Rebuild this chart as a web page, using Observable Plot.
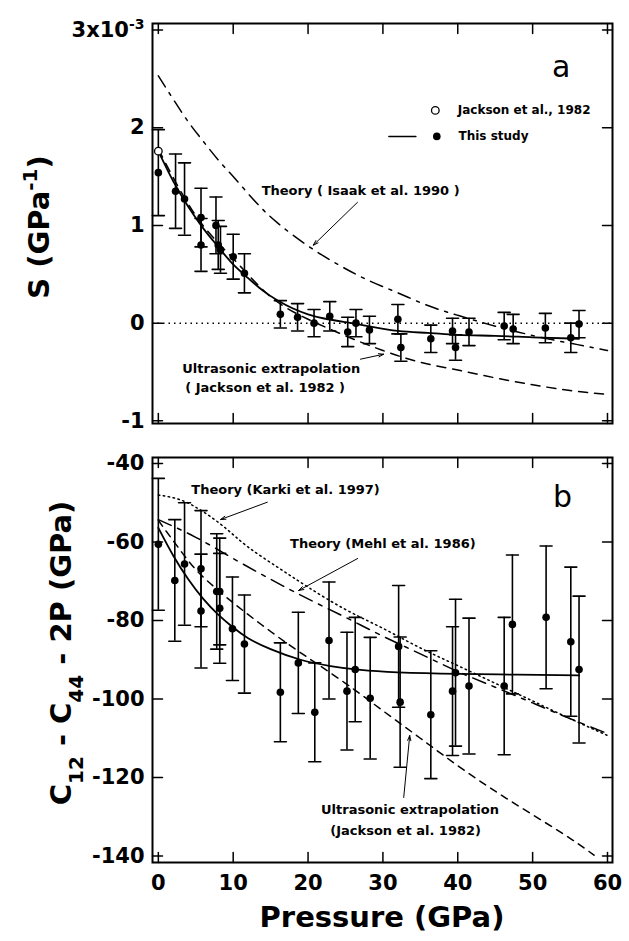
<!DOCTYPE html>
<html><head><meta charset="utf-8">
<script src="https://cdn.jsdelivr.net/npm/d3@7"></script>
<script src="https://cdn.jsdelivr.net/npm/@observablehq/plot@0.6"></script>
<style>
body{margin:0;background:#fff;}
#chart{width:629px;}
#chart svg{display:block;}
</style>
</head><body><div id="chart"></div>
<script>
// ---------- shared ----------
const xTicks = [0, 10, 20, 30, 40, 50, 60];

// ---------- panel a : S (x10^-3 GPa^-1) ----------
const aPressure = [0, 2.3, 3.5, 5.7, 5.7, 7.7, 8.0, 8.3, 10.0, 11.5, 16.3, 18.6, 20.8, 22.9, 25.3, 26.4, 28.2, 32.0, 32.4, 36.4, 39.3, 39.7, 41.5, 46.2, 47.4, 51.7, 55.1, 56.2];
const aS        = [1.54, 1.35, 1.27, 1.08, 0.80, 1.00, 0.80, 0.75, 0.68, 0.51, 0.09, 0.06, 0.00, 0.07, -0.09, 0.00, -0.07, 0.04, -0.25, -0.16, -0.08, -0.25, -0.09, -0.03, -0.06, -0.05, -0.15, -0.01];
const aErr      = [0.44, 0.38, 0.37, 0.30, 0.27, 0.29, 0.25, 0.24, 0.23, 0.20, 0.14, 0.14, 0.14, 0.15, 0.15, 0.14, 0.14, 0.15, 0.14, 0.14, 0.13, 0.13, 0.14, 0.14, 0.15, 0.15, 0.15, 0.14];
const jacksonPressure = [0];
const jacksonS = [1.76];
const aFitP = [0, 2, 4, 6, 8, 10, 12, 14, 16, 18, 20, 22, 25, 28, 32, 36, 40, 45, 50, 56.2];
const aFitS = [1.76, 1.45, 1.19, 0.97, 0.78, 0.60, 0.46, 0.33, 0.23, 0.15, 0.09, 0.05, 0.01, -0.03, -0.08, -0.10, -0.12, -0.13, -0.145, -0.16];
const aUltraP = [0, 5, 10, 15, 20, 25, 30, 35, 40, 45, 50, 55, 60];
const aUltraS = [1.78, 1.10, 0.66, 0.27, 0.04, -0.13, -0.28, -0.40, -0.48, -0.56, -0.63, -0.69, -0.73];
const aIsaakP = [0, 2, 4, 6, 8, 10, 13, 16, 20, 24, 28, 32, 36, 40, 44, 48, 52, 56, 60];
const aIsaakS = [2.53, 2.29, 2.06, 1.86, 1.67, 1.50, 1.24, 1.02, 0.79, 0.60, 0.44, 0.31, 0.18, 0.08, -0.01, -0.09, -0.16, -0.22, -0.28];
const aZero = [0];
const aYTicks = [-1, 0, 1, 2, 3];
const aNoteText = ["Theory ( Isaak et al. 1990 )", "Ultrasonic extrapolation", "( Jackson et al. 1982 )"];
const aNoteP = [13.8, 3.2, 3.6];
const aNoteS = [1.349, -0.471, -0.666];
const aArrowP1 = [26.6, 27.0], aArrowS1 = [1.236, -0.369];
const aArrowP2 = [20.7, 30.1], aArrowS2 = [0.797, -0.318];
const aLegendText = ["Jackson et al., 1982", "This study"];
const aLegendTextP = [40.0, 40.1];
const aLegendS = [2.177, 1.911];
const aLegendLineP = [30.8, 34.4];
const aPanelLabel = ["a"], aPanelP = [53.8], aPanelS = [2.617];

// ---------- panel b : C12 - C44 - 2P (GPa) ----------
const bPressure = [0, 2.2, 3.5, 5.7, 5.7, 7.8, 8.2, 8.2, 9.9, 11.5, 16.3, 18.7, 20.9, 22.8, 25.2, 26.3, 28.3, 32.1, 32.3, 36.4, 39.3, 39.7, 41.5, 46.2, 47.3, 51.8, 55.1, 56.2];
const bC        = [-60.6, -69.8, -65.6, -66.8, -77.6, -72.6, -72.6, -76.9, -82.1, -86.0, -98.3, -90.8, -103.4, -85.1, -98.0, -92.5, -99.8, -86.6, -100.8, -104.0, -98.0, -93.3, -96.7, -96.7, -81.0, -79.2, -85.4, -92.5];
const bErr      = [16.8, 15.5, 15.6, 14.8, 14.5, 14.7, 13.6, 14.0, 13.2, 12.5, 12.6, 12.9, 12.6, 14.9, 15.0, 13.3, 15.5, 15.5, 16.6, 16.3, 16.4, 18.7, 17.3, 17.5, 17.7, 18.2, 19.0, 18.7];
const bFitP = [0, 2, 4, 6, 8, 10, 12, 15, 19, 23, 27, 32, 40, 48, 56.2];
const bFitC = [-56.4, -63.5, -69.5, -74.5, -78.5, -81.8, -84.5, -87.3, -90.0, -91.6, -92.6, -93.2, -93.6, -93.8, -94.0];
const bKarkiP = [0, 3, 6, 9, 12, 16, 20, 25, 30, 35, 40, 45, 50, 55, 60];
const bKarkiC = [-48.0, -49.3, -52.3, -56.5, -61.3, -66.5, -71.5, -77.2, -82.0, -87.0, -91.5, -96.0, -100.5, -105.0, -109.3];
const bMehlP = [0, 5, 10, 15, 20, 25, 30, 35, 40, 45, 50, 55, 60];
const bMehlC = [-54.3, -58.8, -64.2, -69.5, -74.5, -79.2, -84.0, -88.5, -93.0, -97.0, -101.0, -105.0, -108.8];
const bUltraP = [0, 2.5, 5, 7.5, 10, 15, 20, 25, 30, 35, 40, 45, 50, 55, 58.2];
const bUltraC = [-54.5, -61.0, -67.0, -71.5, -75.5, -82.8, -89.5, -96.0, -103.0, -110.0, -117.0, -123.5, -129.5, -135.5, -139.8];
const bYTicks = [-140, -120, -100, -80, -60, -40];
const bNoteStartText = ["Theory (Karki et al. 1997)", "Theory (Mehl et al. 1986)"];
const bNoteStartP = [4.4, 17.6];
const bNoteStartC = [-46.6, -60.46];
const bNoteEndText = ["Ultrasonic extrapolation", "(Jackson et al. 1982)"];
const bNoteEndP = [45.5, 43.1];
const bNoteEndC = [-128.15, -133.5];
const bArrowP1 = [14.56, 26.63, 32.78], bArrowC1 = [-49.86, -64.2, -125.1];
const bArrowP2 = [8.32, 18.74, 33.58], bArrowC2 = [-54.27, -72.36, -109.3];
const bPanelLabel = ["b"], bPanelP = [54.0], bPanelC = [-48.7];

// ---------- helpers ----------
const xDomain = [-0.78, 60.67];
const tickShape = {draw(ctx, l) { ctx.moveTo(0, 0); ctx.lineTo(0, -l); }};
function frameTicks(xt, yt) {
  const o = {length: 10, anchor: "start", shape: tickShape, strokeWidth: 1.5, stroke: "black"};
  return [
    Plot.vector(xt, {x: d => d, frameAnchor: "bottom", rotate: 0, ...o}),
    Plot.vector(xt, {x: d => d, frameAnchor: "top", rotate: 180, ...o}),
    Plot.vector(yt, {y: d => d, frameAnchor: "left", rotate: 90, ...o}),
    Plot.vector(yt, {y: d => d, frameAnchor: "right", rotate: -90, ...o})
  ];
}
function errorBars(xs, ys, es) {
  const rows = xs.map((x, i) => ({x, y: ys[i], lo: ys[i] - es[i], hi: ys[i] + es[i]}));
  return [
    Plot.ruleX(rows, {x: "x", y1: "lo", y2: "hi", stroke: "black", strokeWidth: 1.6}),
    Plot.vector(rows, {x: "x", y: "hi", length: 12, rotate: 90, anchor: "middle", shape: tickShape, strokeWidth: 1.6, stroke: "black"}),
    Plot.vector(rows, {x: "x", y: "lo", length: 12, rotate: 90, anchor: "middle", shape: tickShape, strokeWidth: 1.6, stroke: "black"}),
    Plot.dot(rows, {x: "x", y: "y", r: 3.8, fill: "black", stroke: "none"})
  ];
}
const zip = (xs, ys) => xs.map((x, i) => ({x, y: ys[i]}));
const baseStyle = "font-family:'DejaVu Sans';font-weight:bold;font-size:21px;color:black;background:white;overflow:visible;";

// ---------- panel a ----------
const svgA = Plot.plot({
  width: 629, height: 440,
  marginLeft: 152, marginRight: 17, marginTop: 23, marginBottom: 17,
  style: baseStyle,
  x: {domain: xDomain},
  y: {domain: [-1.027, 3.066]},
  marks: [
    Plot.axisY(aYTicks, {tickSize: 0, tickPadding: 8, fontSize: 21, fontWeight: "bold", label: null,
      tickFormat: d => d === 3 ? "3x10" : String(d)}),
    Plot.axisX({ticks: [], label: null}),
    Plot.ruleY(aZero, {stroke: "black", strokeWidth: 1.5, strokeDasharray: "1.5,4"}),
    Plot.line(zip(aIsaakP, aIsaakS), {x: "x", y: "y", curve: "natural", stroke: "black", strokeWidth: 1.5, strokeDasharray: "13,7,3,7"}),
    Plot.line(zip(aUltraP, aUltraS), {x: "x", y: "y", curve: "natural", stroke: "black", strokeWidth: 1.5, strokeDasharray: "9,7"}),
    Plot.line(zip(aFitP, aFitS), {x: "x", y: "y", curve: "natural", stroke: "black", strokeWidth: 1.8}),
    ...errorBars(aPressure, aS, aErr),
    Plot.dot(zip(jacksonPressure, jacksonS), {x: "x", y: "y", r: 3.8, fill: "white", stroke: "black", strokeWidth: 1.3}),
    Plot.text(aNoteText, {x: (d, i) => aNoteP[i], y: (d, i) => aNoteS[i], text: d => d, textAnchor: "start", fontSize: 13, fontWeight: "bold"}),
    Plot.arrow(aArrowP1, {x1: d => d, y1: (d, i) => aArrowS1[i], x2: (d, i) => aArrowP2[i], y2: (d, i) => aArrowS2[i], stroke: "black", strokeWidth: 1, headLength: 8, headAngle: 35}),
    // legend
    Plot.dot([0], {x: () => 37.0, y: () => aLegendS[0], r: 3.8, fill: "white", stroke: "black", strokeWidth: 1.3}),
    Plot.line(aLegendLineP, {x: d => d, y: () => aLegendS[1], stroke: "black", strokeWidth: 1.5}),
    Plot.dot([0], {x: () => 37.2, y: () => aLegendS[1], r: 3.8, fill: "black"}),
    Plot.text(aLegendText, {x: (d, i) => aLegendTextP[i], y: (d, i) => aLegendS[i], text: d => d, textAnchor: "start", fontSize: 12, fontWeight: "bold"}),
    Plot.text(aPanelLabel, {x: (d, i) => aPanelP[i], y: (d, i) => aPanelS[i], text: d => d, fontSize: 30, fontWeight: "normal"}),
    ...frameTicks(xTicks, aYTicks),
    Plot.frame({stroke: "black", strokeWidth: 2})
  ]
});

// ---------- panel b ----------
const svgB = Plot.plot({
  width: 629, height: 501,
  marginLeft: 152, marginRight: 17, marginTop: 17, marginBottom: 79,
  style: baseStyle,
  x: {domain: xDomain},
  y: {domain: [-141.66, -38.47]},
  marks: [
    Plot.axisY(bYTicks, {tickSize: 0, tickPadding: 8, fontSize: 21, fontWeight: "bold", label: null, tickFormat: d => String(d)}),
    Plot.axisX(xTicks, {tickSize: 0, tickPadding: 13, fontSize: 21, fontWeight: "bold", label: null, tickFormat: d => String(d)}),
    Plot.line(zip(bKarkiP, bKarkiC), {x: "x", y: "y", curve: "natural", stroke: "black", strokeWidth: 1.5, strokeDasharray: "1.5,3.5"}),
    Plot.line(zip(bMehlP, bMehlC), {x: "x", y: "y", curve: "natural", stroke: "black", strokeWidth: 1.5, strokeDasharray: "14,7,4,7"}),
    Plot.line(zip(bUltraP, bUltraC), {x: "x", y: "y", curve: "natural", stroke: "black", strokeWidth: 1.5, strokeDasharray: "7,6"}),
    Plot.line(zip(bFitP, bFitC), {x: "x", y: "y", curve: "natural", stroke: "black", strokeWidth: 1.8}),
    ...errorBars(bPressure, bC, bErr),
    Plot.text(bNoteStartText, {x: (d, i) => bNoteStartP[i], y: (d, i) => bNoteStartC[i], text: d => d, textAnchor: "start", fontSize: 13, fontWeight: "bold"}),
    Plot.text(bNoteEndText, {x: (d, i) => bNoteEndP[i], y: (d, i) => bNoteEndC[i], text: d => d, textAnchor: "end", fontSize: 13, fontWeight: "bold"}),
    Plot.arrow(bArrowP1, {x1: d => d, y1: (d, i) => bArrowC1[i], x2: (d, i) => bArrowP2[i], y2: (d, i) => bArrowC2[i], stroke: "black", strokeWidth: 1, headLength: 8, headAngle: 35}),
    Plot.text(bPanelLabel, {x: (d, i) => bPanelP[i], y: (d, i) => bPanelC[i], text: d => d, fontSize: 30, fontWeight: "normal"}),
    ...frameTicks(xTicks, bYTicks),
    Plot.frame({stroke: "black", strokeWidth: 2})
  ]
});

// superscript on the 3x10^-3 tick label
d3.select(svgA).selectAll("text").each(function() {
  if (this.textContent === "3x10") {
    d3.select(this).append("tspan").attr("baseline-shift", "super").attr("font-size", 14).text("-3");
  }
});

// axis titles with super/subscripts
function addYTitle(svg, x, y, parts) {
  const t = d3.select(svg).append("text")
    .attr("transform", `translate(${x},${y}) rotate(-90)`)
    .attr("text-anchor", "middle")
    .attr("font-family", "DejaVu Sans").attr("font-weight", "bold").attr("font-size", 29).attr("fill", "black");
  for (const [s, shift] of parts) {
    const ts = t.append("tspan").text(s);
    if (shift) ts.attr("baseline-shift", shift).attr("font-size", 20);
  }
}
addYTitle(svgA, 49, 227, [["S (GPa", null], ["-1", "super"], [")", null]]);
addYTitle(svgB, 71, 213, [["C", null], ["12", "sub"], [" - C", null], ["44", "sub"], [" - 2P (GPa)", null]]);
d3.select(svgB).append("text")
  .attr("x", 382).attr("y", 487).attr("text-anchor", "middle")
  .attr("font-family", "DejaVu Sans").attr("font-weight", "bold").attr("font-size", 29).attr("fill", "black")
  .text("Pressure (GPa)");

document.getElementById("chart").append(svgA, svgB);
</script>
</body></html>
